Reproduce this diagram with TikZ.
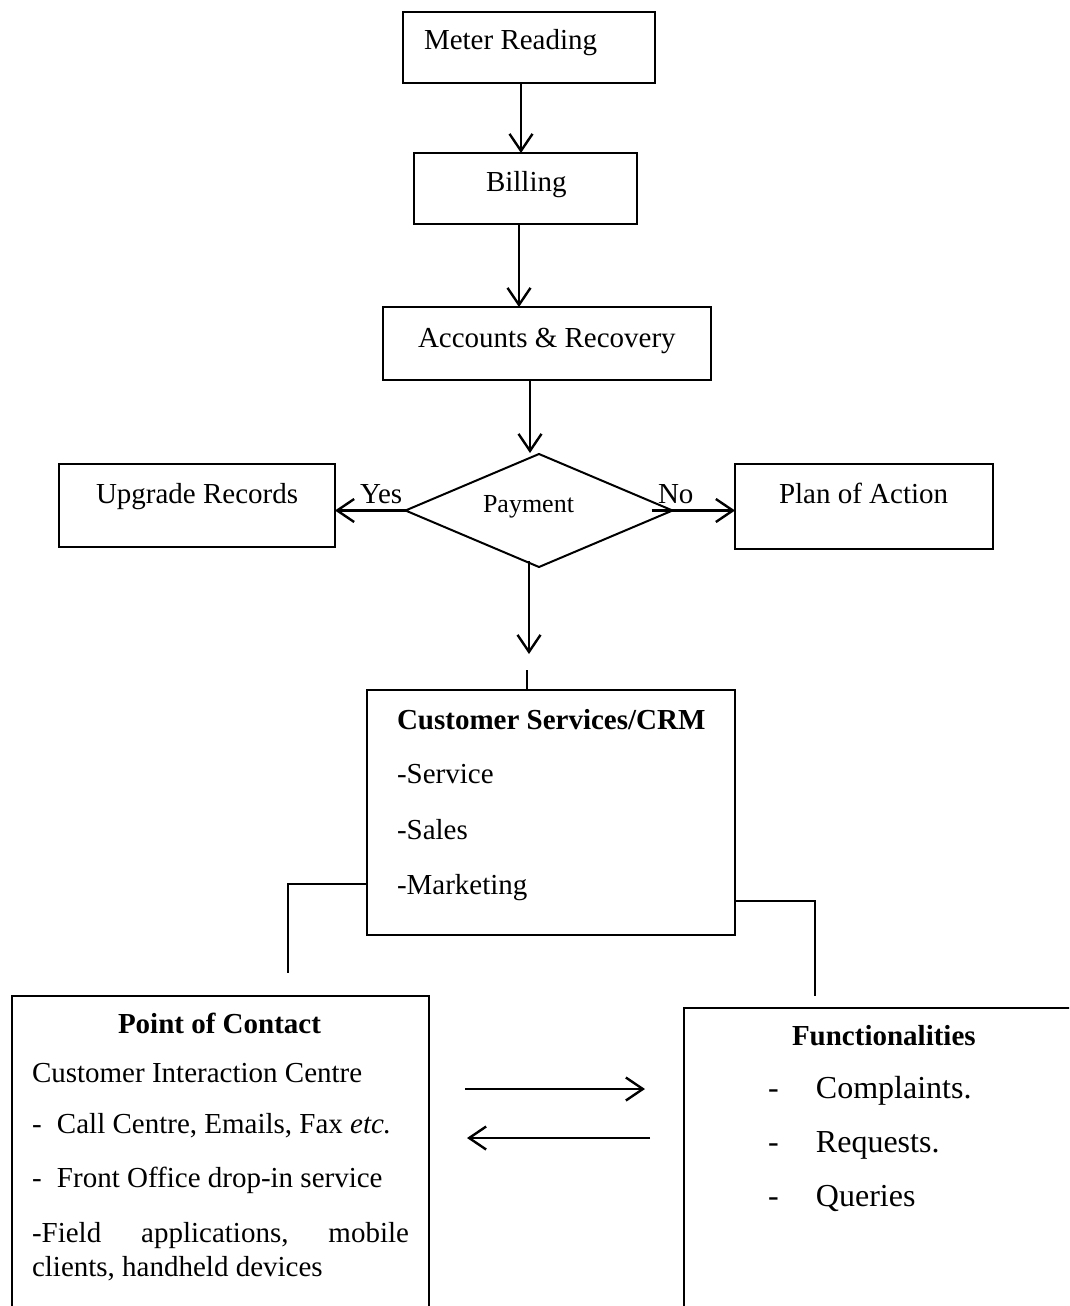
\documentclass[tikz,border=0pt]{standalone}
\usepackage{fontspec}
\setmainfont{Liberation Serif}
\usetikzlibrary{arrows.meta,shapes.geometric}
\tikzset{
  box/.style={draw, line width=2pt, inner sep=0pt, outer sep=0pt},
  txt/.style={inner sep=0pt, outer sep=0pt, anchor=base west, font=\fontsize{29}{34}\selectfont},
  big/.style={txt, font=\fontsize{32}{38}\selectfont},
  small/.style={txt, font=\fontsize{26}{31}\selectfont},
  conn/.style={line width=2pt},
  arr/.style={line width=2.4pt, -{Straight Barb[length=17pt,width=23pt,line width=2.4pt]}},
}
\begin{document}
\begin{tikzpicture}[x=1pt,y=-1pt]
\clip (0,0) rectangle (1069,1306);
\fill[white] (0,0) rectangle (1069,1306);

% boxes
\node[box, minimum width=252pt, minimum height=71pt] (meter) at (529,47.5) {};
\node[box, minimum width=223pt, minimum height=71pt] (billing) at (525.5,188.5) {};
\node[box, minimum width=328pt, minimum height=73pt] (accounts) at (547,343.5) {};
\node[box, diamond, minimum width=267pt, minimum height=113pt] (pay) at (539,510.5) {};
\node[box, minimum width=276pt, minimum height=83pt] (upgrade) at (197,505.5) {};
\node[box, minimum width=258pt, minimum height=85pt] (plan) at (864,506.5) {};
\node[box, minimum width=368pt, minimum height=245pt] (crm) at (551,812.5) {};
\node[box, minimum width=417pt, minimum height=330pt] (poc) at (220.5,1161) {};
\node[box, minimum width=400pt, minimum height=320pt] (func) at (884,1168) {};

% texts
\node[txt] (tmeter) at (424,50) {Meter Reading};
\node[txt] (tbilling) at (486,191) {Billing};
\node[txt] (taccounts) at (418,347) {Accounts \& Recovery};
\node[small] (tpay) at (483,512) {Payment};
\node[txt] (tupgrade) at (96,503) {Upgrade Records};
\node[txt] (tplan) at (779,503) {Plan of Action};
\node[txt] (tyes) at (360,503) {Yes};
\node[txt] (tno) at (658,503) {No};

\node[txt] (tcrm) at (397,729) {\bfseries Customer Services/CRM};
\node[txt] (tservice) at (397,783) {-Service};
\node[txt] (tsales) at (397,839) {-Sales};
\node[txt] (tmarketing) at (397,894) {-Marketing};

\node[txt] (tpoc) at (118,1033) {\bfseries Point of Contact};
\node[txt] (tcic) at (32,1082) {Customer Interaction Centre};
\node[txt] (tcall) at (32,1133) {\makebox[25pt][l]{-}Call Centre, Emails, Fax \textit{etc.}};
\node[txt] (tfront) at (32,1187) {\makebox[25pt][l]{-}Front Office drop-in service};
\node[txt] (tfield) at (32,1242) {\hbox to 377pt{-Field\hfill applications,\hfill mobile}};
\node[txt] (tclients) at (32,1276) {clients, handheld devices};

\node[txt] (tfunc) at (792,1045) {\bfseries Functionalities};
\node[big] (tcompl) at (768,1098) {\makebox[48pt][l]{-}Complaints.};
\node[big] (treq) at (768,1152) {\makebox[48pt][l]{-}Requests.};
\node[big] (tque) at (768,1206) {\makebox[48pt][l]{-}Queries};

% connectors
\draw[arr] ([xshift=-8pt]meter.south) -- ([xshift=-4.5pt]billing.north);
\draw[arr] ([xshift=-6.5pt]billing.south) -- ([xshift=-28pt]accounts.north);
\draw[arr] ([xshift=-17pt]accounts.south) -- ([xshift=-9pt,yshift=1pt]pay.north);
\draw[arr] (pay.west) -- (pay.west -| upgrade.east);
\draw[arr] ([xshift=-21pt]pay.east) -- (pay.east -| plan.west);
\coordinate (downend) at (529,654);
\draw[arr] ([xshift=-10pt,yshift=6pt]pay.south) -- (downend);
\draw[conn] ([xshift=-24pt]crm.north) -- ++(0,-20);
\draw[conn] ([yshift=-71.5pt]crm.west) -- ++(-79,0) -- ++(0,89);
\draw[conn] ([yshift=-88.5pt]crm.east) -- ++(80,0) -- ++(0,95);

\coordinate (r1) at (465,1089);
\coordinate (r2) at (645,1089);
\coordinate (l1) at (650,1138);
\coordinate (l2) at (467,1138);
\draw[arr] (r1) -- (r2);
\draw[arr] (l1) -- (l2);
\end{tikzpicture}
\end{document}
